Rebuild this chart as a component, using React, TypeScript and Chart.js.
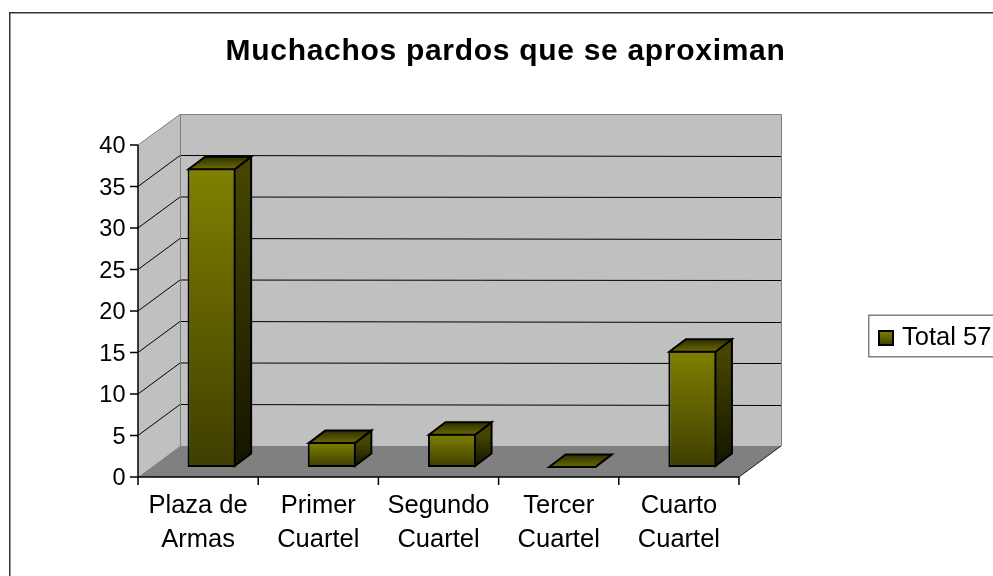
import React, { useEffect, useRef } from 'react';
import { Chart, registerables } from 'chart.js';

Chart.register(...registerables);

// ---- data ----
const titleText = 'Muchachos pardos que se aproximan';
const categories: string[][] = [
  ['Plaza de', 'Armas'],
  ['Primer', 'Cuartel'],
  ['Segundo', 'Cuartel'],
  ['Tercer', 'Cuartel'],
  ['Cuarto', 'Cuartel'],
];
const seriesLabel = 'Total 57';
const seriesValues = [36, 3, 4, 0, 14];
const yTickValues = [0, 5, 10, 15, 20, 25, 30, 35, 40];

// ---- style ----
const FONT = "'Liberation Sans', Arial, Helvetica, sans-serif";
const FRONT_DX = -13.5; // front plane relative to bar plane
const FRONT_DY = 10;
const BACK_DX = 28.5; // back wall relative to bar plane
const BACK_DY = -21;
const BAR_DX = 16.5; // bar depth
const BAR_DY = -12.5;
const TITLE_SPACING = '0.7px';

const threeD = {
  id: 'threeD',
  beforeDraw(chart: any) {
    const ctx = chart.ctx as CanvasRenderingContext2D;
    // chart frame
    ctx.save();
    ctx.strokeStyle = '#333333';
    ctx.lineWidth = 1.5;
    ctx.strokeRect(9.75, 12.75, 2000, 2000);
    ctx.restore();
    (ctx as any).letterSpacing = TITLE_SPACING;
  },
  beforeDatasetsDraw(chart: any) {
    const ctx = chart.ctx as CanvasRenderingContext2D;
    (ctx as any).letterSpacing = '0px';
    const { left, right } = chart.chartArea;
    const ys = chart.scales.y;
    const vmin = yTickValues[0];
    const vmax = yTickValues[yTickValues.length - 1];
    const fl = left + FRONT_DX, fr = right + FRONT_DX;
    const bl = left + BACK_DX, br = right + BACK_DX;
    const yf = (v: number) => ys.getPixelForValue(v) + FRONT_DY;
    const yb = (v: number) => ys.getPixelForValue(v) + BACK_DY;
    const r = (v: number) => Math.round(v) + 0.5;

    ctx.save();
    // side wall
    ctx.fillStyle = '#c0c0c0';
    ctx.beginPath();
    ctx.moveTo(fl, yf(vmax));
    ctx.lineTo(bl, yb(vmax));
    ctx.lineTo(bl, yb(vmin));
    ctx.lineTo(fl, yf(vmin));
    ctx.closePath();
    ctx.fill();
    // back wall
    ctx.fillRect(bl, yb(vmax), br - bl, yb(vmin) - yb(vmax));
    // floor
    ctx.fillStyle = '#808080';
    ctx.beginPath();
    ctx.moveTo(fl, yf(vmin));
    ctx.lineTo(fr, yf(vmin));
    ctx.lineTo(br, yb(vmin));
    ctx.lineTo(bl, yb(vmin));
    ctx.closePath();
    ctx.fill();

    // gridlines
    ctx.strokeStyle = '#000000';
    ctx.lineWidth = 1;
    for (const v of yTickValues) {
      if (v === vmin || v === vmax) continue;
      ctx.beginPath();
      ctx.moveTo(fl, yf(v));
      ctx.lineTo(bl, yb(v));
      ctx.lineTo(br, r(yb(v)));
      ctx.stroke();
    }
    // wall outlines
    ctx.strokeStyle = '#808080';
    ctx.beginPath();
    ctx.moveTo(fl, yf(vmax));
    ctx.lineTo(bl, r(yb(vmax)));
    ctx.lineTo(r(br), r(yb(vmax)));
    ctx.lineTo(r(br), yb(vmin));
    ctx.moveTo(r(bl), r(yb(vmax)));
    ctx.lineTo(r(bl), yb(vmin));
    ctx.stroke();
    // floor right edge
    ctx.strokeStyle = '#1a1a1a';
    ctx.beginPath();
    ctx.moveTo(fr, yf(vmin));
    ctx.lineTo(br, yb(vmin));
    ctx.stroke();

    // axes
    ctx.strokeStyle = '#000000';
    ctx.lineWidth = 1.5;
    ctx.beginPath();
    ctx.moveTo(fl, yf(vmax));
    ctx.lineTo(fl, yf(vmin));
    ctx.lineTo(fr, yf(vmin));
    for (const v of yTickValues) {
      ctx.moveTo(fl - 8, yf(v));
      ctx.lineTo(fl, yf(v));
    }
    const n = categories.length;
    for (let i = 0; i <= n; i++) {
      const x = fl + (i * (fr - fl)) / n;
      ctx.moveTo(x, yf(vmin));
      ctx.lineTo(x, yf(vmin) + 8);
    }
    ctx.stroke();
    ctx.restore();
  },
  afterDatasetsDraw(chart: any) {
    const ctx = chart.ctx as CanvasRenderingContext2D;
    const meta = chart.getDatasetMeta(0);
    ctx.save();
    ctx.lineWidth = 2;
    ctx.strokeStyle = '#000000';
    ctx.lineJoin = 'miter';
    meta.data.forEach((bar: any) => {
      const { x, y, base, width } = bar.getProps(['x', 'y', 'base', 'width'], true);
      const xl = x - width / 2 + 1;
      const xr = x + width / 2 - 1;
      let yt = Math.min(y, base);
      let yB = Math.max(y, base);
      if (yB - yt > 2) {
        yt += 1;
        yB -= 1;
      }
      // side face
      const gs = ctx.createLinearGradient(0, yt, 0, Math.max(yB, yt + 1));
      gs.addColorStop(0, '#464600');
      gs.addColorStop(1, '#141400');
      ctx.fillStyle = gs;
      ctx.beginPath();
      ctx.moveTo(xr, yt);
      ctx.lineTo(xr + BAR_DX, yt + BAR_DY);
      ctx.lineTo(xr + BAR_DX, yB + BAR_DY);
      ctx.lineTo(xr, yB);
      ctx.closePath();
      ctx.fill();
      ctx.stroke();
      // top face
      const gt = ctx.createLinearGradient(0, yt, 0, yt + BAR_DY);
      gt.addColorStop(0, '#6a6a00');
      gt.addColorStop(1, '#2e2e00');
      ctx.fillStyle = gt;
      ctx.beginPath();
      ctx.moveTo(xl, yt);
      ctx.lineTo(xr, yt);
      ctx.lineTo(xr + BAR_DX, yt + BAR_DY);
      ctx.lineTo(xl + BAR_DX, yt + BAR_DY);
      ctx.closePath();
      ctx.fill();
      ctx.stroke();
    });
    ctx.restore();
  },
  afterDraw(chart: any) {
    const ctx = chart.ctx as CanvasRenderingContext2D;
    const label = chart.data.datasets[0].label as string;
    ctx.save();
    // legend frame
    ctx.strokeStyle = '#808080';
    ctx.lineWidth = 1.5;
    ctx.strokeRect(868.75, 315.25, 300, 41.5);
    // legend marker
    const g = ctx.createLinearGradient(0, 331, 0, 345);
    g.addColorStop(0, '#808000');
    g.addColorStop(1, '#404000');
    ctx.fillStyle = g;
    ctx.fillRect(879, 331, 14, 14);
    ctx.strokeStyle = '#000000';
    ctx.lineWidth = 2;
    ctx.strokeRect(879, 331, 14, 14);
    // legend text
    ctx.fillStyle = '#000000';
    ctx.font = `25.5px ${FONT}`;
    ctx.textBaseline = 'middle';
    ctx.textAlign = 'left';
    ctx.fillText(label, 902, 337.5);
    ctx.restore();
  },
};

export default function App() {
  const canvasRef = useRef<HTMLCanvasElement | null>(null);

  useEffect(() => {
    const canvas = canvasRef.current;
    if (!canvas) return;
    const chart = new Chart(canvas, {
      type: 'bar',
      data: {
        labels: categories,
        datasets: [
          {
            label: seriesLabel,
            data: seriesValues,
            backgroundColor: (c: any) => {
              const ch = c.chart;
              const ys = ch.scales && ch.scales.y;
              if (!ys || c.raw === undefined) return '#808000';
              const y0 = ys.getPixelForValue(c.raw);
              const y1 = ys.getPixelForValue(0);
              if (!isFinite(y0) || !isFinite(y1) || Math.abs(y1 - y0) < 1) return '#808000';
              const g = ch.ctx.createLinearGradient(0, y0, 0, y1);
              g.addColorStop(0, '#808000');
              g.addColorStop(1, '#3e3e00');
              return g;
            },
            borderColor: '#000000',
            borderWidth: 2,
            borderSkipped: false,
            barPercentage: 0.4,
            categoryPercentage: 1,
          },
        ],
      },
      options: {
        responsive: false,
        maintainAspectRatio: false,
        animation: false,
        devicePixelRatio: 1,
        layout: { padding: { left: 18, right: 0, top: 0, bottom: 0 } },
        plugins: {
          legend: { display: false },
          tooltip: { enabled: false },
          title: {
            display: true,
            text: titleText,
            color: '#000000',
            font: { family: FONT, size: 30, weight: 'bold', lineHeight: 1.2 },
            padding: { top: 34, bottom: 65 },
          },
        },
        scales: {
          x: {
            type: 'category',
            grid: { display: false, drawTicks: false },
            border: { display: false },
            ticks: {
              color: '#000000',
              font: { family: FONT, size: 25.5, lineHeight: 34 / 25.5 },
              padding: 22,
              labelOffset: FRONT_DX,
              maxRotation: 0,
              minRotation: 0,
              autoSkip: false,
              z: 1,
            },
            afterFit: (s: any) => {
              s.height = 109;
            },
          },
          y: {
            type: 'linear',
            position: 'left',
            min: yTickValues[0],
            max: yTickValues[yTickValues.length - 1],
            grid: { display: false, drawTicks: false },
            border: { display: false },
            ticks: {
              color: '#000000',
              font: { family: FONT, size: 23.5 },
              padding: 26,
              labelOffset: 12,
              z: 1,
            },
            afterBuildTicks: (s: any) => {
              s.ticks = yTickValues.map((v) => ({ value: v }));
            },
            afterFit: (s: any) => {
              s.width = 133.5;
            },
          },
          pad: {
            type: 'linear',
            position: 'right',
            display: true,
            grid: { display: false, drawTicks: false },
            border: { display: false },
            ticks: { display: false },
            afterFit: (s: any) => {
              s.width = 240.5;
            },
          },
        },
      } as any,
      plugins: [threeD],
    });
    return () => chart.destroy();
  }, []);

  return (
    <div style={{ position: 'fixed', left: 0, top: 0, width: 993, height: 576, background: '#ffffff' }}>
      <canvas ref={canvasRef} width={993} height={576} style={{ display: 'block' }} />
    </div>
  );
}
